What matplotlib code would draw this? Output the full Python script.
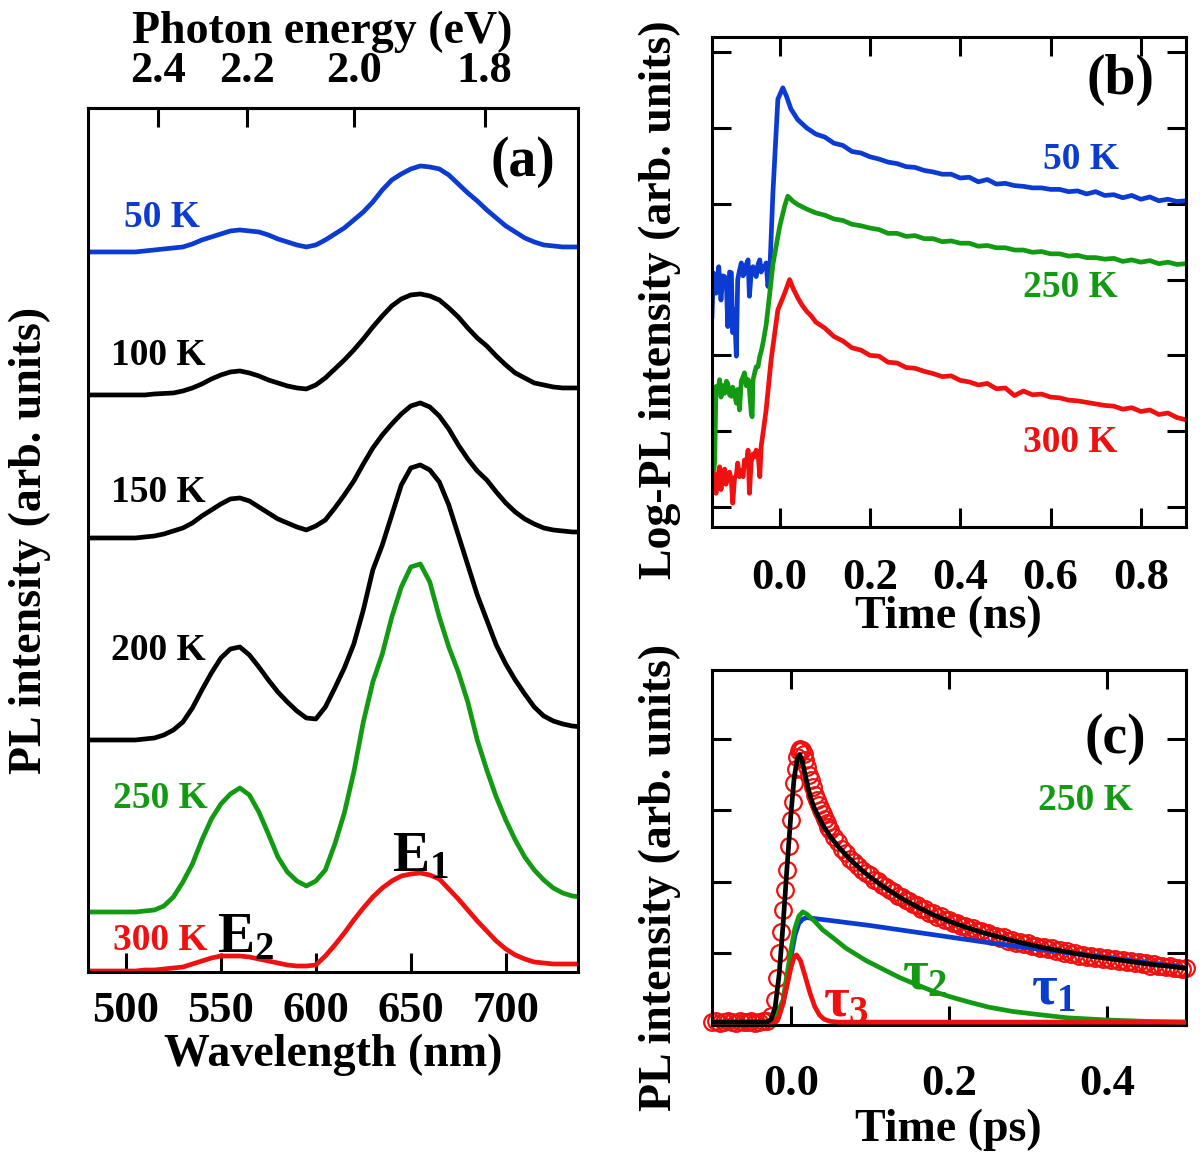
import numpy as np
import matplotlib
matplotlib.use('Agg')
import matplotlib.pyplot as plt

plt.rcParams['font.family'] = 'Liberation Serif'
plt.rcParams['font.weight'] = 'bold'
plt.rcParams['mathtext.fontset'] = 'custom'
plt.rcParams['mathtext.rm'] = 'Liberation Serif:bold'
plt.rcParams['mathtext.it'] = 'Liberation Serif:bold'
plt.rcParams['mathtext.bf'] = 'Liberation Serif:bold'

BLUE = '#0b3bd0'
GREEN = '#139a13'
RED = '#f01010'
BLACK = 'black'

# ---------------- (a) PL spectra ----------------
wavelength = [480, 485, 490, 495, 500, 505, 510, 515, 520, 525, 530, 535, 540, 545,
              550, 555, 560, 565, 570, 575, 580, 585, 590, 595, 600, 605, 610, 615,
              620, 625, 630, 635, 640, 645, 650, 655, 660, 665, 670, 675, 680, 685,
              690, 695, 700, 705, 710, 715, 720, 725, 730, 735, 740]

pl_50K = [0, 0, 0, 0, 0, 0, 0.01, 0.02, 0.03, 0.04, 0.05, 0.08, 0.12, 0.15,
          0.18, 0.21, 0.22, 0.21, 0.20, 0.17, 0.13, 0.10, 0.07, 0.05, 0.07, 0.12, 0.18, 0.24,
          0.32, 0.40, 0.50, 0.62, 0.72, 0.78, 0.83, 0.86, 0.85, 0.83, 0.77, 0.68, 0.59, 0.51,
          0.42, 0.34, 0.26, 0.20, 0.14, 0.10, 0.07, 0.06, 0.05, 0.05, 0.05]
pl_100K = [0, 0, 0, 0, 0, 0, 0, 0.01, 0.015, 0.02, 0.04, 0.07, 0.11, 0.16,
           0.20, 0.23, 0.24, 0.22, 0.19, 0.15, 0.12, 0.09, 0.07, 0.06, 0.10, 0.17, 0.26, 0.35,
           0.45, 0.56, 0.68, 0.79, 0.89, 0.96, 1.00, 1.01, 0.99, 0.95, 0.87, 0.78, 0.67, 0.57,
           0.49, 0.39, 0.30, 0.22, 0.17, 0.12, 0.10, 0.08, 0.07, 0.07, 0.07]
pl_150K = [0, 0, 0, 0, 0, 0, 0.01, 0.02, 0.04, 0.07, 0.10, 0.15, 0.22, 0.28,
           0.34, 0.39, 0.40, 0.37, 0.31, 0.25, 0.19, 0.15, 0.11, 0.08, 0.12, 0.18, 0.30, 0.43,
           0.57, 0.74, 0.90, 1.03, 1.14, 1.24, 1.32, 1.35, 1.31, 1.22, 1.09, 0.93, 0.79, 0.67,
           0.58, 0.46, 0.35, 0.26, 0.19, 0.14, 0.10, 0.08, 0.07, 0.06, 0.06]
pl_200K = [0, 0, 0, 0, 0, 0, 0.01, 0.02, 0.05, 0.10, 0.18, 0.32, 0.50, 0.67,
           0.82, 0.91, 0.93, 0.85, 0.73, 0.60, 0.48, 0.38, 0.29, 0.22, 0.21, 0.33, 0.52, 0.72,
           0.96, 1.30, 1.70, 1.95, 2.25, 2.55, 2.72, 2.75, 2.70, 2.58, 2.35, 2.05, 1.75, 1.45,
           1.20, 0.95, 0.76, 0.60, 0.46, 0.33, 0.24, 0.19, 0.16, 0.14, 0.13]
pl_250K = [0, 0, 0, 0, 0, 0, 0.01, 0.02, 0.06, 0.15, 0.30, 0.48, 0.72, 0.93,
           1.08, 1.18, 1.24, 1.17, 1.00, 0.78, 0.55, 0.40, 0.31, 0.26, 0.31, 0.42, 0.68, 0.99,
           1.40, 1.90, 2.30, 2.58, 2.95, 3.25, 3.45, 3.48, 3.30, 2.95, 2.65, 2.40, 2.10, 1.72,
           1.42, 1.15, 0.92, 0.72, 0.55, 0.42, 0.32, 0.24, 0.19, 0.16, 0.15]
pl_300K = [0, 0, 0, 0, 0, 0, 0.01, 0.01, 0.02, 0.03, 0.04, 0.07, 0.10, 0.13,
           0.15, 0.15, 0.15, 0.14, 0.12, 0.10, 0.08, 0.06, 0.05, 0.05, 0.06, 0.15, 0.26, 0.38,
           0.51, 0.63, 0.74, 0.83, 0.90, 0.95, 0.97, 0.98, 0.96, 0.92, 0.82, 0.72, 0.61, 0.50,
           0.40, 0.30, 0.22, 0.16, 0.12, 0.09, 0.08, 0.07, 0.07, 0.07, 0.07]

spectra = [pl_50K, pl_100K, pl_150K, pl_200K, pl_250K, pl_300K]
spec_labels = ['50 K', '100 K', '150 K', '200 K', '250 K', '300 K']
spec_offsets = [7.20, 5.77, 4.34, 2.32, 0.60, 0.01]
spec_colors = [BLUE, BLACK, BLACK, BLACK, GREEN, RED]
wl_ticks = [500, 550, 600, 650, 700]
ev_ticks = [2.4, 2.2, 2.0, 1.8]

# ---------------- (b) log-PL transients (ns) ----------------
t_50K = [-0.150, -0.147, -0.141, -0.135, -0.130, -0.126, -0.122, -0.118, -0.115, -0.111,
         -0.107, -0.104, -0.100, -0.096, -0.093, -0.089, -0.085, -0.081, -0.078, -0.074,
         -0.070, -0.067, -0.063, -0.059, -0.055, -0.052, -0.048, -0.044, -0.041, -0.037,
         -0.033, -0.030, -0.026, -0.022, -0.015, -0.004, 0.007, 0.015, 0.025, 0.04,
         0.06, 0.08, 0.10, 0.12, 0.14, 0.16, 0.18, 0.20, 0.22, 0.24, 0.26, 0.28, 0.30,
         0.32, 0.34, 0.36, 0.38, 0.40, 0.42, 0.44, 0.46, 0.48, 0.50, 0.52, 0.54, 0.56,
         0.58, 0.60, 0.62, 0.64, 0.66, 0.68, 0.70, 0.72, 0.74, 0.76, 0.78, 0.80, 0.82,
         0.84, 0.86, 0.88, 0.90]
log_50K = [2.51, 3.09, 2.82, 3.17, 2.73, 3.05, 3.04, 2.95, 2.38, 3.10,
           3.09, 2.30, 2.60, 1.99, 3.00, 3.12, 3.22, 3.05, 3.09, 3.20,
           3.26, 2.78, 3.10, 3.17, 3.08, 3.04, 3.20, 3.26, 3.10, 3.17,
           3.15, 3.22, 2.91, 3.09, 4.14, 5.38, 5.53, 5.42, 5.25, 5.11,
           5.00, 4.92, 4.88, 4.80, 4.77, 4.69, 4.67, 4.62, 4.59, 4.55, 4.53, 4.49, 4.48,
           4.44, 4.42, 4.39, 4.39, 4.34, 4.35, 4.29, 4.32, 4.26, 4.27, 4.24, 4.23, 4.21,
           4.21, 4.19, 4.19, 4.16, 4.17, 4.13, 4.16, 4.11, 4.12, 4.08, 4.11, 4.06, 4.09,
           4.04, 4.06, 4.03, 4.04]

t_250K = [-0.150, -0.148, -0.146, -0.144, -0.141, -0.137, -0.133, -0.130, -0.126, -0.122,
          -0.118, -0.115, -0.111, -0.107, -0.104, -0.100, -0.096, -0.093, -0.089, -0.085,
          -0.081, -0.078, -0.074, -0.070, -0.067, -0.063, -0.061, -0.059, -0.055, -0.052,
          -0.048, -0.044, -0.041, -0.037, -0.030, -0.022, -0.015, 0.0, 0.011, 0.018,
          0.03, 0.04, 0.06, 0.08, 0.10, 0.12, 0.14, 0.16, 0.18, 0.20, 0.22, 0.24, 0.26,
          0.28, 0.30, 0.32, 0.34, 0.36, 0.38, 0.40, 0.42, 0.44, 0.46, 0.48, 0.50, 0.52,
          0.54, 0.56, 0.58, 0.60, 0.62, 0.64, 0.66, 0.68, 0.70, 0.72, 0.74, 0.76, 0.78,
          0.80, 0.82, 0.84, 0.86, 0.88, 0.90]
log_250K = [1.33, 1.55, 0.49, 0.60, 1.59, 1.52, 1.68, 1.45, 1.60, 1.50,
            1.66, 1.63, 1.48, 1.46, 1.58, 1.50, 1.37, 1.55, 1.28, 1.66,
            1.72, 1.77, 1.60, 1.68, 1.55, 1.24, 1.19, 1.68, 1.78, 1.85,
            1.85, 1.99, 2.05, 2.16, 2.40, 2.82, 3.20, 3.70, 3.97, 4.10,
            4.03, 3.99, 3.93, 3.88, 3.85, 3.80, 3.78, 3.73, 3.71, 3.68, 3.66, 3.61, 3.61,
            3.57, 3.58, 3.54, 3.54, 3.50, 3.51, 3.48, 3.48, 3.44, 3.45, 3.42, 3.42, 3.39,
            3.39, 3.36, 3.37, 3.34, 3.34, 3.31, 3.32, 3.29, 3.29, 3.27, 3.28, 3.24, 3.26,
            3.23, 3.25, 3.21, 3.23, 3.20, 3.21]

t_300K = [-0.150, -0.146, -0.141, -0.137, -0.133, -0.130, -0.126, -0.122, -0.119, -0.115,
          -0.111, -0.107, -0.104, -0.100, -0.096, -0.093, -0.089, -0.085, -0.081, -0.078,
          -0.074, -0.070, -0.067, -0.063, -0.059, -0.056, -0.052, -0.048, -0.044, -0.041,
          -0.037, -0.030, -0.019, -0.004, 0.011, 0.022,
          0.03, 0.04, 0.05, 0.06, 0.07, 0.08, 0.10, 0.12, 0.14, 0.16, 0.18, 0.20, 0.22,
          0.24, 0.26, 0.28, 0.30, 0.32, 0.34, 0.36, 0.38, 0.40, 0.42, 0.44, 0.46, 0.48,
          0.50, 0.52, 0.54, 0.56, 0.58, 0.60, 0.62, 0.64, 0.66, 0.68, 0.70, 0.72, 0.74,
          0.76, 0.78, 0.80, 0.82, 0.84, 0.86, 0.88, 0.90]
log_300K = [0.27, 0.45, 0.18, 0.40, 0.53, 0.23, 0.42, 0.50, 0.30, 0.40,
            0.46, 0.35, 0.05, 0.38, 0.42, 0.58, 0.40, 0.48, 0.40, 0.62,
            0.55, 0.75, 0.18, 0.60, 0.70, 0.66, 0.75, 0.72, 0.40, 0.80,
            0.97, 1.28, 1.94, 2.60, 2.82, 3.00,
            2.88, 2.76, 2.66, 2.58, 2.52, 2.44, 2.36, 2.25, 2.19, 2.10, 2.07, 2.00, 1.99,
            1.91, 1.90, 1.84, 1.83, 1.79, 1.76, 1.72, 1.73, 1.67, 1.65, 1.61, 1.63, 1.56,
            1.57, 1.47, 1.53, 1.48, 1.49, 1.45, 1.44, 1.41, 1.40, 1.38, 1.36, 1.34, 1.33,
            1.29, 1.31, 1.26, 1.28, 1.22, 1.24, 1.18, 1.15]

ns_ticks = [0.0, 0.2, 0.4, 0.6, 0.8]
log_ticks = [0, 1, 2, 3, 4, 5, 6]

# ---------------- (c) 250 K transient with fit (ps) ----------------
t_data = [-0.100, -0.095, -0.090, -0.085, -0.080, -0.075, -0.070, -0.065, -0.060, -0.055,
          -0.050, -0.045, -0.040, -0.035, -0.030,
          -0.025, -0.020, -0.0175, -0.015, -0.0125, -0.010, -0.0075, -0.005, -0.0025, 0.000,
          0.002, 0.004, 0.006, 0.008, 0.010, 0.012, 0.014, 0.016, 0.018, 0.020,
          0.0225, 0.025, 0.0275, 0.030, 0.0325, 0.035, 0.0375, 0.040, 0.0425, 0.045,
          0.0475, 0.050, 0.055, 0.060, 0.065, 0.070, 0.075, 0.080,
          0.085, 0.090, 0.095, 0.100, 0.105, 0.110, 0.115, 0.120, 0.125, 0.130,
          0.135, 0.140, 0.145, 0.150, 0.155, 0.160, 0.165, 0.170, 0.175, 0.180,
          0.185, 0.190, 0.195, 0.200, 0.205, 0.210, 0.215, 0.220, 0.225, 0.230,
          0.235, 0.240, 0.245, 0.250, 0.255, 0.260, 0.265, 0.270, 0.275, 0.280,
          0.285, 0.290, 0.295, 0.300, 0.305, 0.310, 0.315, 0.320, 0.325, 0.330,
          0.335, 0.340, 0.345, 0.350, 0.355, 0.360, 0.365, 0.370, 0.375, 0.380,
          0.385, 0.390, 0.395, 0.400, 0.405, 0.410, 0.415, 0.420, 0.425, 0.430,
          0.435, 0.440, 0.445, 0.450, 0.455, 0.460, 0.465, 0.470, 0.475, 0.480,
          0.485, 0.490, 0.495, 0.500]
pl_data = [0.04, 0.05, 0.03, 0.04, 0.05, 0.04, 0.03, 0.05, 0.04, 0.04,
           0.05, 0.03, 0.04, 0.05, 0.06,
           0.12, 0.35, 0.65, 1.00, 1.30, 1.60, 1.88, 2.17, 2.50, 2.87,
           3.12, 3.38, 3.58, 3.75, 3.83, 3.86, 3.84, 3.78, 3.70, 3.60,
           3.50, 3.42, 3.32, 3.22, 3.14, 3.07, 3.00, 2.95, 2.88, 2.82,
           2.77, 2.72, 2.62, 2.55, 2.46, 2.40, 2.32, 2.28,
           2.22, 2.17, 2.13, 2.09, 2.03, 2.01, 1.95, 1.93, 1.88, 1.86,
           1.80, 1.79, 1.74, 1.73, 1.69, 1.67, 1.62, 1.62, 1.56, 1.56,
           1.51, 1.52, 1.47, 1.47, 1.42, 1.43, 1.38, 1.39, 1.34, 1.35,
           1.31, 1.31, 1.27, 1.29, 1.24, 1.25, 1.21, 1.23, 1.18, 1.19,
           1.15, 1.16, 1.13, 1.14, 1.10, 1.11, 1.08, 1.09, 1.06, 1.07,
           1.03, 1.05, 1.01, 1.03, 0.99, 1.00, 0.97, 0.98, 0.95, 0.97,
           0.94, 0.95, 0.92, 0.94, 0.91, 0.92, 0.89, 0.91, 0.88, 0.89,
           0.86, 0.88, 0.85, 0.86, 0.83, 0.85, 0.82, 0.83, 0.81, 0.82,
           0.80, 0.80, 0.78, 0.79]

t_fit = [-0.10, -0.03, -0.025, -0.02, -0.015, -0.01, -0.005, 0.0, 0.004, 0.008,
         0.011, 0.014, 0.018, 0.022, 0.026, 0.03, 0.04, 0.05, 0.06, 0.07, 0.08,
         0.09, 0.10, 0.12, 0.14, 0.16, 0.18, 0.20, 0.22, 0.24, 0.26, 0.28, 0.30,
         0.32, 0.34, 0.36, 0.38, 0.40, 0.42, 0.44, 0.46, 0.48, 0.50]
pl_fit = [0.04, 0.04, 0.08, 0.25, 0.70, 1.40, 2.20, 2.95, 3.45, 3.72,
          3.78, 3.70, 3.50, 3.30, 3.14, 3.02, 2.80, 2.63, 2.49, 2.37, 2.26,
          2.16, 2.07, 1.91, 1.77, 1.65, 1.54, 1.45, 1.37, 1.30, 1.24, 1.18, 1.13,
          1.08, 1.04, 1.00, 0.96, 0.93, 0.90, 0.87, 0.84, 0.82, 0.79]

t_tau1 = [-0.10, -0.03, -0.02, -0.01, -0.005, 0.0, 0.005, 0.01, 0.015, 0.02,
          0.05, 0.10, 0.15, 0.20, 0.25, 0.30, 0.35, 0.40, 0.45, 0.50]
pl_tau1 = [0.04, 0.04, 0.08, 0.30, 0.60, 0.95, 1.25, 1.42, 1.48, 1.50,
           1.46, 1.39, 1.31, 1.23, 1.15, 1.08, 1.01, 0.94, 0.87, 0.80]

t_tau2 = [-0.10, -0.03, -0.02, -0.01, -0.005, 0.0, 0.005, 0.01, 0.015, 0.02,
          0.03, 0.04, 0.053, 0.07, 0.095, 0.12, 0.138, 0.16, 0.18, 0.20, 0.222,
          0.25, 0.28, 0.31, 0.35, 0.40, 0.45, 0.50]
pl_tau2 = [0.04, 0.04, 0.10, 0.35, 0.70, 1.05, 1.35, 1.52, 1.58, 1.55,
           1.45, 1.33, 1.22, 1.07, 0.90, 0.76, 0.66, 0.56, 0.47, 0.40, 0.33,
           0.25, 0.19, 0.15, 0.10, 0.07, 0.05, 0.04]

t_tau3 = [-0.10, -0.025, -0.02, -0.015, -0.01, -0.005, 0.0, 0.004, 0.007, 0.012,
          0.018, 0.024, 0.03, 0.036, 0.042, 0.05, 0.06, 0.50]
pl_tau3 = [0.04, 0.04, 0.06, 0.12, 0.30, 0.55, 0.80, 0.95, 0.98, 0.90,
           0.68, 0.45, 0.26, 0.14, 0.08, 0.05, 0.04, 0.04]

ps_ticks = [0.0, 0.2, 0.4]
lin_ticks = [0, 1, 2, 3, 4]

TICK_FS = 32
LABEL_FS = 33
TEMP_FS = 27
PANEL_FS = 40
LW = 3.4


def style_box(ax):
    for sp in ax.spines.values():
        sp.set_linewidth(2.2)
    ax.tick_params(direction='in', length=14, width=2.2, labelsize=TICK_FS)


fig = plt.figure(figsize=(12, 11.57), dpi=100)

# ---------- panel (a) ----------
axa = fig.add_axes([0.0733, 0.1599, 0.4083, 0.7468])
for vals, off, col in zip(spectra, spec_offsets, spec_colors):
    axa.plot(wavelength, np.array(vals) + off, color=col, lw=LW)
axa.set_xlim(480, 738)
axa.set_ylim(0, 8.64)
axa.set_yticks([])
axa.set_xticks(wl_ticks)
style_box(axa)
axa.tick_params(axis='x', pad=14)

secax = axa.secondary_xaxis('top', functions=(lambda x: 1240.0 / x, lambda e: 1240.0 / e))
secax.set_xticks(ev_ticks)
secax.set_xticklabels(['%.1f' % e for e in ev_ticks])
secax.tick_params(direction='in', length=14, width=2.2, labelsize=TICK_FS, pad=12)
secax.spines['top'].set_linewidth(2.2)

temp_pos_a = [(519, 7.54), (517, 6.16), (517, 4.79), (517, 3.21), (518, 1.73), (518, 0.31)]
for lab, (x, y), col in zip(spec_labels, temp_pos_a, spec_colors):
    axa.text(x, y, lab, color=col, fontsize=TEMP_FS, ha='center', va='center')
axa.text(655, 1.15, r'E$_1$', fontsize=40, ha='center', va='center')
axa.text(563, 0.34, r'E$_2$', fontsize=40, ha='center', va='center')
axa.text(709, 8.10, '(a)', fontsize=PANEL_FS, ha='center', va='center')

fig.text(333 / 1200, 1 - 1055 / 1157, 'Wavelength (nm)', fontsize=LABEL_FS,
         ha='center', va='center')
fig.text(322 / 1200, 1 - 32 / 1157, 'Photon energy (eV)', fontsize=LABEL_FS,
         ha='center', va='center')
fig.text(30 / 1200, 1 - 540 / 1157, 'PL intensity (arb. units)', fontsize=LABEL_FS,
         ha='center', va='center', rotation=90)

# ---------- panel (b) ----------
axb = fig.add_axes([0.5933, 0.5445, 0.395, 0.4235])
axb.plot(t_50K, log_50K, color=BLUE, lw=LW)
axb.plot(t_250K, log_250K, color=GREEN, lw=LW)
axb.plot(t_300K, log_300K, color=RED, lw=LW)
axb.set_xlim(-0.15, 0.90)
axb.set_ylim(-0.264, 6.2)
axb.set_xticks(ns_ticks)
axb.set_xticklabels(['%.1f' % t for t in ns_ticks])
axb.set_yticks(log_ticks)
axb.set_yticklabels([])
style_box(axb)
axb.tick_params(top=True, right=True, pad=22)
axb.text(0.667, 4.58, '50 K', color=BLUE, fontsize=TEMP_FS, ha='center', va='center')
axb.text(0.644, 2.89, '250 K', color=GREEN, fontsize=TEMP_FS, ha='center', va='center')
axb.text(0.644, 0.85, '300 K', color=RED, fontsize=TEMP_FS, ha='center', va='center')
axb.text(0.756, 5.64, '(b)', fontsize=PANEL_FS, ha='center', va='center')
fig.text(948 / 1200, 1 - 617 / 1157, 'Time (ns)', fontsize=LABEL_FS, ha='center', va='center')
fig.text(660 / 1200, 1 - 300 / 1157, 'Log-PL intensity (arb. units)', fontsize=LABEL_FS,
         ha='center', va='center', rotation=90)

# ---------- panel (c) ----------
axc = fig.add_axes([0.5933, 0.1141, 0.395, 0.3068])
axc.plot(t_data, pl_data, 'o', mfc='none', mec=RED, ms=12, mew=1.6, clip_on=False, zorder=2)
axc.plot(t_tau1, pl_tau1, color=BLUE, lw=LW, zorder=3)
axc.plot(t_tau2, pl_tau2, color=GREEN, lw=LW, zorder=3)
axc.plot(t_tau3, pl_tau3, color=RED, lw=LW, zorder=4)
axc.plot(t_fit, pl_fit, color=BLACK, lw=LW, zorder=5)
axc.set_xlim(-0.10, 0.50)
axc.set_ylim(0, 4.96)
axc.set_xticks(ps_ticks)
axc.set_xticklabels(['%.1f' % t for t in ps_ticks])
axc.set_yticks(lin_ticks)
axc.set_yticklabels([])
style_box(axc)
axc.tick_params(top=True, right=True, pad=28)
axc.text(0.411, 3.99, '(c)', fontsize=PANEL_FS, ha='center', va='center')
axc.text(0.373, 3.13, '250 K', color=GREEN, fontsize=TEMP_FS, ha='center', va='center')
axc.text(0.070, 0.32, r'$\tau_3$', color=RED, fontsize=40, ha='center', va='center')
axc.text(0.169, 0.70, r'$\tau_2$', color=GREEN, fontsize=40, ha='center', va='center')
axc.text(0.332, 0.49, r'$\tau_1$', color=BLUE, fontsize=40, ha='center', va='center')
fig.text(948 / 1200, 1 - 1130 / 1157, 'Time (ps)', fontsize=LABEL_FS, ha='center', va='center')
fig.text(660 / 1200, 1 - 877 / 1157, 'PL intensity (arb. units)', fontsize=LABEL_FS,
         ha='center', va='center', rotation=90)

fig.savefig('out.png', dpi=100)
